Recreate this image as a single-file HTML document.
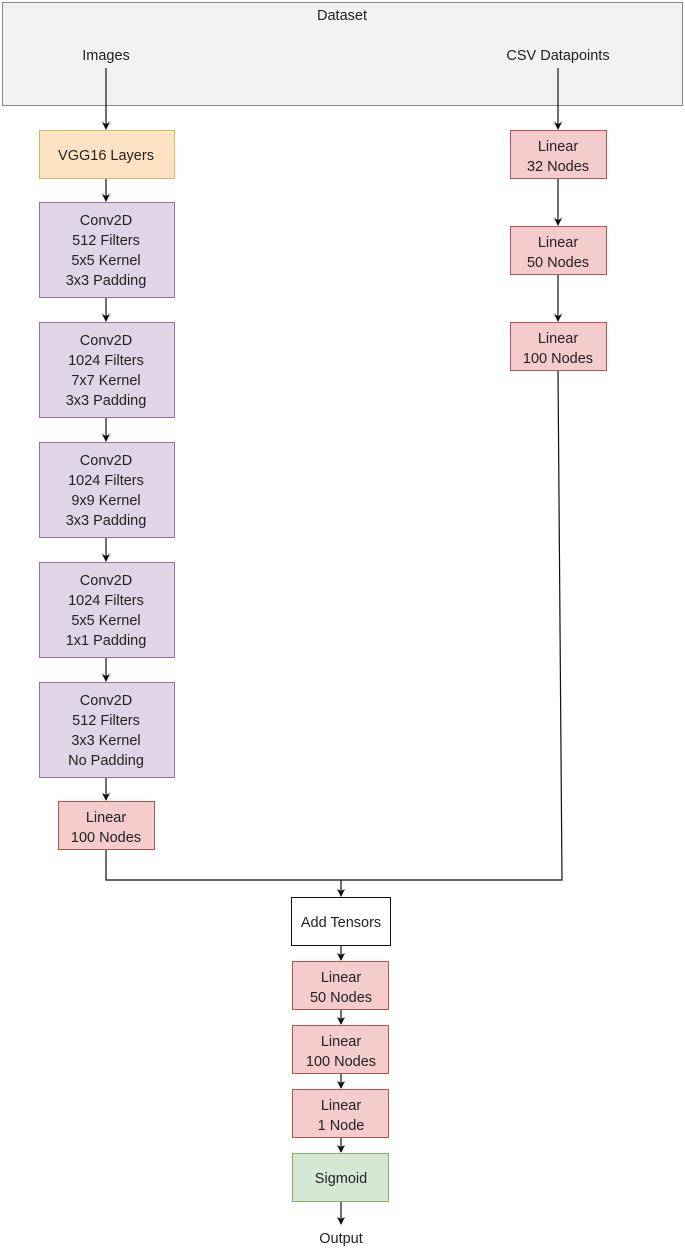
<!DOCTYPE html>
<html><head><style>
body{margin:0;width:685px;height:1249px;background:#fff;font-family:"Liberation Sans",Arial,sans-serif;}
svg text{font-family:"Liberation Sans",Arial,sans-serif;font-size:14.5px;fill:#222;text-anchor:middle;}
</style></head><body>
<svg width="685" height="1249" viewBox="0 0 685 1249" xmlns="http://www.w3.org/2000/svg">
<defs><marker id="a" markerWidth="8" markerHeight="8" refX="7" refY="4" orient="auto" markerUnits="userSpaceOnUse"><path d="M0,0 L8,4 L0,8 L2,4 Z" fill="#111"/></marker></defs>
<rect x="2.5" y="2.5" width="680" height="103" fill="#f1f2f3" stroke="#888"/>
<text x="342" y="20">Dataset</text>
<text x="106" y="60">Images</text>
<text x="558" y="60">CSV Datapoints</text>
<g stroke="#111" stroke-width="1.2" fill="none">
<line x1="106" y1="68" x2="106" y2="129" marker-end="url(#a)"/>
<line x1="558" y1="68" x2="558" y2="129" marker-end="url(#a)"/>
<line x1="106" y1="178" x2="106" y2="201" marker-end="url(#a)"/>
<line x1="106" y1="297" x2="106" y2="321" marker-end="url(#a)"/>
<line x1="106" y1="417" x2="106" y2="441" marker-end="url(#a)"/>
<line x1="106" y1="537" x2="106" y2="561" marker-end="url(#a)"/>
<line x1="106" y1="657" x2="106" y2="681" marker-end="url(#a)"/>
<line x1="106" y1="777" x2="106" y2="800" marker-end="url(#a)"/>
<line x1="558" y1="178" x2="558" y2="225" marker-end="url(#a)"/>
<line x1="558" y1="274" x2="558" y2="321" marker-end="url(#a)"/>
<polyline points="558,370 562,880 106,880 106,849"/>
<line x1="341" y1="880" x2="341" y2="896" marker-end="url(#a)"/>
<line x1="341" y1="945" x2="341" y2="960" marker-end="url(#a)"/>
<line x1="341" y1="1009" x2="341" y2="1024" marker-end="url(#a)"/>
<line x1="341" y1="1073" x2="341" y2="1088" marker-end="url(#a)"/>
<line x1="341" y1="1137" x2="341" y2="1152" marker-end="url(#a)"/>
<line x1="341" y1="1201" x2="341" y2="1224" marker-end="url(#a)"/>
</g>
<rect x="39.5" y="130.5" width="135" height="48" fill="#fde3c3" stroke="#d6b656"/>
<text x="106" y="160">VGG16 Layers</text>
<g fill="#e0d5e7" stroke="#9673a6">
<rect x="39.5" y="202.5" width="135" height="95"/>
<rect x="39.5" y="322.5" width="135" height="95"/>
<rect x="39.5" y="442.5" width="135" height="95"/>
<rect x="39.5" y="562.5" width="135" height="95"/>
<rect x="39.5" y="682.5" width="135" height="95"/>
</g>
<text x="106" y="225">Conv2D</text><text x="106" y="245">512 Filters</text><text x="106" y="265">5x5 Kernel</text><text x="106" y="285">3x3 Padding</text>
<text x="106" y="345">Conv2D</text><text x="106" y="365">1024 Filters</text><text x="106" y="385">7x7 Kernel</text><text x="106" y="405">3x3 Padding</text>
<text x="106" y="465">Conv2D</text><text x="106" y="485">1024 Filters</text><text x="106" y="505">9x9 Kernel</text><text x="106" y="525">3x3 Padding</text>
<text x="106" y="585">Conv2D</text><text x="106" y="605">1024 Filters</text><text x="106" y="625">5x5 Kernel</text><text x="106" y="645">1x1 Padding</text>
<text x="106" y="705">Conv2D</text><text x="106" y="725">512 Filters</text><text x="106" y="745">3x3 Kernel</text><text x="106" y="765">No Padding</text>
<g fill="#f5cccc" stroke="#b85450">
<rect x="58.5" y="801.5" width="96" height="48"/>
<rect x="510.5" y="130.5" width="96" height="48"/>
<rect x="510.5" y="226.5" width="96" height="48"/>
<rect x="510.5" y="322.5" width="96" height="48"/>
<rect x="292.5" y="961.5" width="96" height="48"/>
<rect x="292.5" y="1025.5" width="96" height="48"/>
<rect x="292.5" y="1089.5" width="96" height="48"/>
</g>
<text x="106" y="822">Linear</text><text x="106" y="842">100 Nodes</text>
<text x="558" y="151">Linear</text><text x="558" y="171">32 Nodes</text>
<text x="558" y="247">Linear</text><text x="558" y="267">50 Nodes</text>
<text x="558" y="343">Linear</text><text x="558" y="363">100 Nodes</text>
<rect x="291.5" y="897.5" width="99" height="48" fill="#fff" stroke="#111"/>
<text x="341" y="927">Add Tensors</text>
<text x="341" y="982">Linear</text><text x="341" y="1002">50 Nodes</text>
<text x="341" y="1046">Linear</text><text x="341" y="1066">100 Nodes</text>
<text x="341" y="1110">Linear</text><text x="341" y="1130">1 Node</text>
<rect x="292.5" y="1153.5" width="96" height="48" fill="#d5e8d4" stroke="#82b366"/>
<text x="341" y="1183">Sigmoid</text>
<text x="341" y="1243">Output</text>
</svg>
</body></html>
